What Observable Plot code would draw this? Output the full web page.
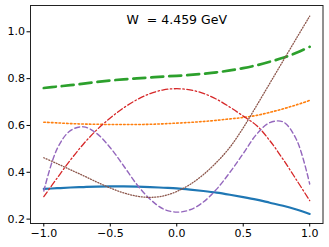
<!DOCTYPE html>
<html><head><meta charset="utf-8">
<script src="https://cdn.jsdelivr.net/npm/d3@7"></script>
<script src="https://cdn.jsdelivr.net/npm/@observablehq/plot@0.6"></script>
<style>
body{margin:0;background:#fff}
svg text{white-space:pre}
</style>
</head><body><div id="chart"></div>
<script>
const xs = [-1.0,-0.9,-0.8,-0.7,-0.6,-0.5,-0.4,-0.3,-0.2,-0.1,0.0,0.1,0.2,0.3,0.4,0.5,0.6,0.7,0.8,0.9,1.0];
const blue   = [0.329,0.332,0.335,0.337,0.339,0.340,0.340,0.339,0.337,0.334,0.331,0.326,0.320,0.313,0.304,0.294,0.283,0.270,0.257,0.241,0.222];
const orange = [0.614,0.611,0.608,0.606,0.605,0.604,0.604,0.604,0.605,0.607,0.610,0.613,0.617,0.622,0.628,0.634,0.643,0.656,0.671,0.688,0.707];
const green  = [0.760,0.766,0.772,0.779,0.786,0.792,0.797,0.801,0.805,0.809,0.812,0.816,0.821,0.827,0.835,0.845,0.857,0.872,0.889,0.910,0.936];
const red    = [0.296,0.375,0.452,0.522,0.582,0.632,0.675,0.710,0.736,0.752,0.757,0.752,0.737,0.712,0.678,0.640,0.600,0.535,0.455,0.368,0.279];
const purple = [0.320,0.500,0.578,0.594,0.565,0.505,0.428,0.348,0.285,0.243,0.230,0.240,0.273,0.328,0.400,0.480,0.562,0.612,0.615,0.540,0.350];
const brown  = [0.462,0.437,0.411,0.385,0.358,0.333,0.312,0.298,0.293,0.299,0.318,0.348,0.390,0.443,0.507,0.590,0.684,0.780,0.876,0.972,1.067];
const titleText = ["W  = 4.459 GeV"];
const xTicks = [-1.0,-0.5,0.0,0.5,1.0];
const yTicks = [0.2,0.4,0.6,0.8,1.0];

const styles = [
  {values: blue,   stroke:"#1f77b4", strokeWidth:2.2, strokeDasharray:null},
  {values: orange, stroke:"#ff7f0e", strokeWidth:1.6, strokeDasharray:"1.6,2.2"},
  {values: green,  stroke:"#2ca02c", strokeWidth:2.7, strokeDasharray:"12,6"},
  {values: red,    stroke:"#d62728", strokeWidth:1.3, strokeDasharray:"6,2.5,1.5,2.5"},
  {values: purple, stroke:"#9467bd", strokeWidth:1.4, strokeDasharray:"5,3"},
  {values: brown,  stroke:"#8c564b", strokeWidth:1.3, strokeDasharray:"1,1.7"}
];

const lines = styles.map(s => Plot.line(xs.map((x,i)=>({x, y:s.values[i]})), {
  x:"x", y:"y", curve:"catmull-rom",
  stroke:s.stroke, strokeWidth:s.strokeWidth,
  strokeDasharray:s.strokeDasharray||undefined
}));

const chart = Plot.plot({
  width:329, height:247,
  marginLeft:30, marginRight:6.5, marginTop:5, marginBottom:24,
  style:{fontFamily:"DejaVu Sans", fontSize:"11px", background:"#fff", color:"#000"},
  x:{domain:[-1.1,1.1]},
  y:{domain:[0.1813,1.1123]},
  marks:[
    ...lines,
    Plot.frame({stroke:"#222", strokeWidth:1}),
    Plot.axisX({ticks:xTicks, tickFormat:d3.format(".1f"), tickSize:3.5, tickPadding:2.5, label:null, fontSize:11}),
    Plot.axisY({ticks:yTicks, tickFormat:d3.format(".1f"), tickSize:3.5, tickPadding:2, label:null, fontSize:11}),
    Plot.text(titleText, {text:d=>d, frameAnchor:"top", dy:18, lineAnchor:"bottom", fontSize:12.5, fill:"#000"})
  ]
});
document.getElementById("chart").appendChild(chart);
</script>
</body></html>
